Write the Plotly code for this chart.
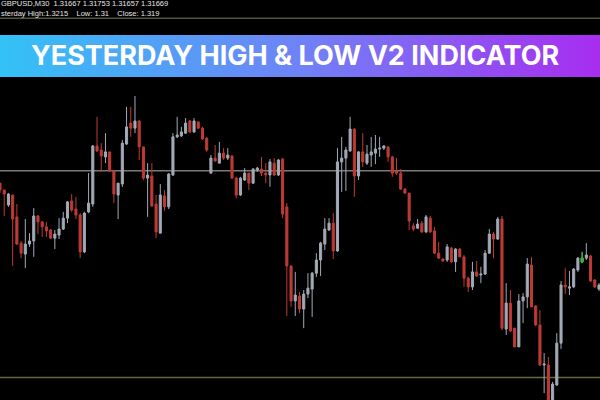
import plotly.graph_objects as go

# ---- candle data (GBPUSD, M30) ----
opens = [
    1.31622, 1.31600, 1.31552, 1.31584, 1.31514, 1.31430, 1.31395, 1.31427, 1.31437, 1.31517,
    1.31498, 1.31482, 1.31472, 1.31446, 1.31456, 1.31475, 1.31510, 1.31565, 1.31539, 1.31520,
    1.31402, 1.31530, 1.31555, 1.31741, 1.31728, 1.31706, 1.31722, 1.31661, 1.31584,
    1.31619, 1.31747, 1.31814, 1.31798, 1.31821, 1.31738, 1.31638, 1.31645, 1.31555, 1.31462,
    1.31581, 1.31546, 1.31648, 1.31770, 1.31773, 1.31782, 1.31821, 1.31786, 1.31818, 1.31798,
    1.31766, 1.31654, 1.31702, 1.31686, 1.31718, 1.31702, 1.31709, 1.31638,
    1.31584, 1.31632, 1.31654, 1.31622, 1.31664, 1.31667, 1.31654, 1.31648, 1.31686, 1.31648,
    1.31699, 1.31546, 1.31357, 1.31245, 1.31261, 1.31219, 1.31267, 1.31283, 1.31334, 1.31376,
    1.31427, 1.31472, 1.31494, 1.31405, 1.31690, 1.31702, 1.31725, 1.31795, 1.31645,
    1.31722, 1.31686, 1.31712, 1.31718, 1.31731, 1.31734, 1.31738, 1.31706, 1.31661, 1.31654,
    1.31603, 1.31590, 1.31485, 1.31478, 1.31494, 1.31466, 1.31510, 1.31469, 1.31398, 1.31379,
    1.31376, 1.31414, 1.31370, 1.31411, 1.31386, 1.31318, 1.31290, 1.31338,
    1.31328, 1.31331, 1.31398, 1.31459, 1.31443, 1.31507, 1.31155, 1.31238, 1.31158, 1.31098,
    1.31245, 1.31258, 1.31360, 1.31229, 1.31168, 1.31040, 1.31040, 1.30912, 1.30976, 1.31110,
    1.31296, 1.31286, 1.31290, 1.31344, 1.31370, 1.31382, 1.31389, 1.31312, 1.31283,
]
highs = [
    1.31622, 1.31600, 1.31590, 1.31584, 1.31555, 1.31437, 1.31507, 1.31462, 1.31542, 1.31520,
    1.31501, 1.31498, 1.31475, 1.31472, 1.31510, 1.31530, 1.31565, 1.31587, 1.31578, 1.31526,
    1.31530, 1.31654, 1.31744, 1.31834, 1.31750, 1.31782, 1.31722, 1.31664, 1.31622,
    1.31760, 1.31866, 1.31866, 1.31901, 1.31824, 1.31738, 1.31686, 1.31686, 1.31584, 1.31619,
    1.31600, 1.31654, 1.31782, 1.31834, 1.31802, 1.31830, 1.31824, 1.31830, 1.31818, 1.31802,
    1.31770, 1.31712, 1.31744, 1.31754, 1.31734, 1.31734, 1.31712, 1.31642,
    1.31642, 1.31670, 1.31654, 1.31670, 1.31674, 1.31706, 1.31686, 1.31699, 1.31702, 1.31699,
    1.31702, 1.31558, 1.31357, 1.31338, 1.31274, 1.31280, 1.31334, 1.31338, 1.31398, 1.31434,
    1.31510, 1.31510, 1.31526, 1.31734, 1.31770, 1.31738, 1.31834, 1.31798, 1.31725,
    1.31782, 1.31744, 1.31770, 1.31776, 1.31770, 1.31744, 1.31741, 1.31709, 1.31702, 1.31667,
    1.31606, 1.31590, 1.31494, 1.31507, 1.31501, 1.31520, 1.31517, 1.31482, 1.31434, 1.31382,
    1.31427, 1.31418, 1.31414, 1.31414, 1.31392, 1.31322, 1.31370, 1.31373,
    1.31354, 1.31408, 1.31475, 1.31466, 1.31514, 1.31517, 1.31302, 1.31280, 1.31158, 1.31267,
    1.31270, 1.31382, 1.31386, 1.31232, 1.31216, 1.31078, 1.31066, 1.30986, 1.31142, 1.31309,
    1.31350, 1.31341, 1.31350, 1.31386, 1.31402, 1.31430, 1.31392, 1.31315, 1.31302,
]
lows = [
    1.31590, 1.31517, 1.31546, 1.31357, 1.31424, 1.31382, 1.31350, 1.31418, 1.31386, 1.31459,
    1.31450, 1.31450, 1.31443, 1.31411, 1.31443, 1.31472, 1.31494, 1.31530, 1.31507, 1.31382,
    1.31398, 1.31526, 1.31546, 1.31722, 1.31658, 1.31686, 1.31658, 1.31558, 1.31507,
    1.31610, 1.31744, 1.31770, 1.31782, 1.31696, 1.31632, 1.31514, 1.31546, 1.31446, 1.31462,
    1.31533, 1.31539, 1.31645, 1.31766, 1.31770, 1.31779, 1.31782, 1.31782, 1.31795, 1.31760,
    1.31722, 1.31654, 1.31690, 1.31686, 1.31696, 1.31696, 1.31635, 1.31574,
    1.31581, 1.31629, 1.31600, 1.31619, 1.31658, 1.31645, 1.31622, 1.31610, 1.31645, 1.31645,
    1.31510, 1.31197, 1.31226, 1.31197, 1.31206, 1.31158, 1.31254, 1.31194, 1.31322, 1.31325,
    1.31408, 1.31469, 1.31379, 1.31402, 1.31594, 1.31597, 1.31722, 1.31578, 1.31632,
    1.31674, 1.31680, 1.31674, 1.31683, 1.31706, 1.31728, 1.31690, 1.31642, 1.31648, 1.31600,
    1.31587, 1.31472, 1.31469, 1.31475, 1.31462, 1.31462, 1.31462, 1.31395, 1.31379, 1.31370,
    1.31370, 1.31366, 1.31338, 1.31386, 1.31290, 1.31274, 1.31280, 1.31322,
    1.31302, 1.31328, 1.31395, 1.31382, 1.31440, 1.31152, 1.31136, 1.31146, 1.31098, 1.31098,
    1.31174, 1.31222, 1.31226, 1.31165, 1.31037, 1.30950, 1.30896, 1.30896, 1.30973, 1.31091,
    1.31267, 1.31264, 1.31286, 1.31338, 1.31366, 1.31376, 1.31306, 1.31286, 1.31277,
]
closes = [
    1.31600, 1.31587, 1.31587, 1.31507, 1.31427, 1.31398, 1.31427, 1.31437, 1.31517, 1.31498,
    1.31482, 1.31469, 1.31446, 1.31459, 1.31475, 1.31510, 1.31562, 1.31536, 1.31520, 1.31402,
    1.31526, 1.31558, 1.31741, 1.31725, 1.31709, 1.31722, 1.31661, 1.31587, 1.31622,
    1.31750, 1.31802, 1.31798, 1.31821, 1.31738, 1.31638, 1.31648, 1.31549, 1.31466, 1.31584,
    1.31546, 1.31651, 1.31770, 1.31776, 1.31786, 1.31814, 1.31786, 1.31821, 1.31798, 1.31763,
    1.31728, 1.31702, 1.31693, 1.31718, 1.31702, 1.31712, 1.31638, 1.31584,
    1.31638, 1.31654, 1.31622, 1.31667, 1.31670, 1.31654, 1.31648, 1.31690, 1.31648, 1.31696,
    1.31523, 1.31357, 1.31245, 1.31264, 1.31219, 1.31267, 1.31286, 1.31334, 1.31376, 1.31430,
    1.31475, 1.31494, 1.31405, 1.31690, 1.31702, 1.31728, 1.31795, 1.31645, 1.31722,
    1.31690, 1.31715, 1.31722, 1.31731, 1.31734, 1.31741, 1.31706, 1.31654, 1.31654, 1.31603,
    1.31590, 1.31501, 1.31475, 1.31491, 1.31466, 1.31514, 1.31466, 1.31398, 1.31382, 1.31373,
    1.31418, 1.31370, 1.31411, 1.31386, 1.31318, 1.31290, 1.31338, 1.31325,
    1.31331, 1.31398, 1.31459, 1.31443, 1.31507, 1.31158, 1.31238, 1.31149, 1.31098, 1.31245,
    1.31258, 1.31363, 1.31226, 1.31168, 1.31040, 1.31043, 1.30912, 1.30979, 1.31110, 1.31296,
    1.31290, 1.31290, 1.31347, 1.31382, 1.31382, 1.31392, 1.31309, 1.31290, 1.31296,
]
bars = list(range(len(opens)))
marked_bar = 138  # the single green candle

yesterday_high = 1.3215
yesterday_low = 1.31
price_line = 1.31662

header_line1 = "GBPUSD,M30  1.31667 1.31753 1.31657 1.31669"
header_line2 = "sterday High:1.3215&#160;&#160;&#160;&#160;Low: 1.31&#160;&#160;&#160;&#160;Close: 1.319"
banner_title = "YESTERDAY HIGH & LOW V2 INDICATOR"

UP = "#a2aab6"
DOWN = "#be3b35"

fig = go.Figure()

fig.add_trace(go.Candlestick(
    x=bars, open=opens, high=highs, low=lows, close=closes,
    increasing=dict(line=dict(color=UP, width=1), fillcolor=UP),
    decreasing=dict(line=dict(color=DOWN, width=1), fillcolor=DOWN),
    whiskerwidth=0, hoverinfo="skip", showlegend=False,
))
fig.add_trace(go.Candlestick(
    x=[bars[marked_bar]], open=[opens[marked_bar]], high=[highs[marked_bar]],
    low=[lows[marked_bar]], close=[closes[marked_bar]],
    increasing=dict(line=dict(color="#22c02a", width=1), fillcolor="#22c02a"),
    decreasing=dict(line=dict(color="#22c02a", width=1), fillcolor="#22c02a"),
    whiskerwidth=0, hoverinfo="skip", showlegend=False,
))

# gradient banner (decoration, on an overlay axis pair in 0..1 units)
fig.add_trace(go.Scatter(
    x=[0, 1, 1, 0, 0], y=[0.8075, 0.8075, 0.9125, 0.9125, 0.8075],
    xaxis="x2", yaxis="y2", mode="lines", line=dict(width=0),
    fill="toself",
    fillgradient=dict(type="horizontal",
                      colorscale=[[0, "#33c2f6"], [0.5, "#6f82f6"], [1, "#a82df0"]]),
    hoverinfo="skip", showlegend=False,
))

shapes = [
    dict(type="line", xref="paper", x0=0, x1=1, yref="y", y0=yesterday_high, y1=yesterday_high,
         line=dict(color="#56552f", width=1.5), layer="below"),
    dict(type="line", xref="paper", x0=0, x1=1, yref="y", y0=yesterday_low, y1=yesterday_low,
         line=dict(color="#6a6838", width=1.5), layer="below"),
    dict(type="line", xref="paper", x0=0, x1=1, yref="y", y0=price_line, y1=price_line,
         line=dict(color="#7a7a7a", width=1.5), layer="below"),
]

annotations = [
    dict(text=header_line1 + "<br>" + header_line2, xref="paper", yref="paper", x=0, y=1,
         xanchor="left", yanchor="top", align="left",
         xshift=-1, yshift=3, showarrow=False,
         font=dict(family="Liberation Sans", size=7.5, color="#e6e6e6")),
    dict(text="<b>" + banner_title + "</b>", xref="paper", yref="paper", x=0.492, y=0.861,
         xanchor="center", yanchor="middle", showarrow=False,
         font=dict(family="Inter", size=27, color="#ffffff")),
]

fig.update_layout(
    width=600, height=400,
    margin=dict(l=0, r=0, t=0, b=0),
    paper_bgcolor="#000000", plot_bgcolor="#000000",
    showlegend=False,
    xaxis=dict(range=[0, 142.24], visible=False, rangeslider=dict(visible=False), fixedrange=True),
    yaxis=dict(range=[1.30928, 1.32208], visible=False, fixedrange=True),
    xaxis2=dict(range=[0, 1], overlaying="x", visible=False, fixedrange=True),
    yaxis2=dict(range=[0, 1], overlaying="y", visible=False, fixedrange=True),
    shapes=shapes, annotations=annotations,
)

fig.write_html("out.html", config={"displayModeBar": False},
               post_script="document.body.style.margin='0';document.body.style.background='#000';")
